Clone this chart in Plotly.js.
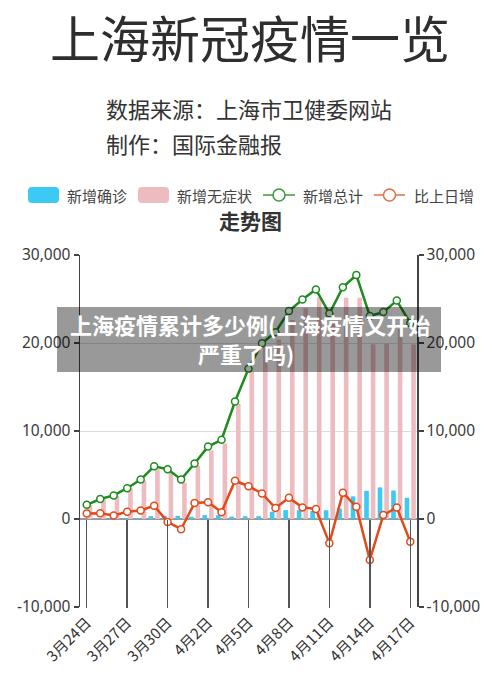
<!DOCTYPE html>
<html>
<head>
<meta charset="utf-8">
<script src="https://cdn.plot.ly/plotly-3.0.1.min.js"></script>
<style>html,body{margin:0;padding:0;background:#fff;}#chart{width:500px;height:680px;}</style>
</head>
<body>
<div id="chart"></div>
<script>
// ---- data ----
const dates = ['3月24日','3月25日','3月26日','3月27日','3月28日','3月29日','3月30日','3月31日',
  '4月1日','4月2日','4月3日','4月4日','4月5日','4月6日','4月7日','4月8日','4月9日','4月10日',
  '4月11日','4月12日','4月13日','4月14日','4月15日','4月16日','4月17日'];
const confirmed = [29,38,45,50,96,326,355,358,260,438,425,268,311,322,824,1015,1006,914,994,1189,2573,3200,3590,3238,2417];
const asymptomatic = [1580,2231,2631,3450,4381,5656,5298,4144,6051,7788,8581,13086,16766,19660,20398,22609,23937,25173,22348,25141,25146,19872,19923,21582,19831];
const total = [1609,2269,2676,3500,4477,5982,5653,4502,6311,8226,9006,13354,17077,19982,21222,23624,24943,26087,23342,26330,27719,23072,23513,24820,22248];
const change = [626,660,407,824,977,1505,-329,-1151,1809,1915,780,4348,3723,2905,1240,2402,1319,1144,-2745,2988,1389,-4647,441,1307,-2572];
const xTickVals = ['3月24日','3月27日','3月30日','4月2日','4月5日','4月8日','4月11日','4月14日','4月17日'];
const yTickVals = [-10000,0,10000,20000,30000];
const yTickText = ['-10,000','0','10,000','20,000','30,000'];
const seriesNames = ['新增确诊','新增无症状','新增总计','比上日增'];

// ---- style ----
const FONT = '"Noto Sans CJK SC", "Noto Sans", sans-serif';
const NUMFONT = '"Noto Sans", "Noto Sans CJK SC", sans-serif';
const BLUE = '#3ccaf5', PINK = '#ecbcc0', GREEN = '#1f8c1f', ORANGE = '#e14b1c';
const L = 80, R = 417, T = 255, B = 607;
const X = px => (px - L) / (R - L);
const Y = py => (B - py) / (B - T);

const traces = [
  {type:'bar', name:seriesNames[0], x:dates, y:confirmed, marker:{color:BLUE}, showlegend:false},
  {type:'bar', name:seriesNames[1], x:dates, y:asymptomatic, marker:{color:PINK}, showlegend:false},
  {type:'scatter', mode:'lines+markers', name:seriesNames[2], x:dates, y:total, yaxis:'y2',
   line:{color:GREEN, width:2.5}, marker:{symbol:'circle', size:7, color:'#fff', line:{color:GREEN, width:1.5}}, showlegend:false},
  {type:'scatter', mode:'lines+markers', name:seriesNames[3], x:dates, y:change, yaxis:'y2',
   line:{color:ORANGE, width:2.5}, marker:{symbol:'circle', size:7, color:'#fff', line:{color:ORANGE, width:1.5}}, showlegend:false}
];

const yAxisBase = {
  range:[-10000,30000], tickmode:'array', tickvals:yTickVals, ticktext:yTickText,
  showline:true, linecolor:'#444', linewidth:1.5, ticks:'outside', ticklen:5, tickcolor:'#444', tickwidth:1.2,
  tickfont:{family:NUMFONT, size:15.5, color:'#3a3a3a'}, fixedrange:true
};

function roundRect(x0, y0, x1, y1, r) {
  const rx = r / (R - L), ry = r / (B - T);
  const a = X(x0), b = X(x1), c = Y(y1), d = Y(y0);
  return `M${a+rx},${d} L${b-rx},${d} Q${b},${d} ${b},${d-ry} L${b},${c+ry} Q${b},${c} ${b-rx},${c} ` +
         `L${a+rx},${c} Q${a},${c} ${a},${c+ry} L${a},${d-ry} Q${a},${d} ${a+rx},${d} Z`;
}
function circle(cx, cy, r, color) {
  return {type:'circle', xref:'paper', yref:'paper', x0:X(cx-r), x1:X(cx+r), y0:Y(cy+r), y1:Y(cy-r),
          fillcolor:'#fff', line:{color:color, width:1.5}};
}
const LEG_Y = 195;
const shapes = [
  {type:'path', xref:'paper', yref:'paper', path:roundRect(28,187,59,203,4), fillcolor:BLUE, line:{width:0}},
  {type:'path', xref:'paper', yref:'paper', path:roundRect(138,187,169,203,4), fillcolor:PINK, line:{width:0}},
  {type:'line', xref:'paper', yref:'paper', x0:X(263), x1:X(295), y0:Y(LEG_Y), y1:Y(LEG_Y), line:{color:'#3a9a3a', width:1.5}},
  circle(279, LEG_Y, 6, '#3a9a3a'),
  {type:'line', xref:'paper', yref:'paper', x0:X(374), x1:X(405), y0:Y(LEG_Y), y1:Y(LEG_Y), line:{color:'#e07040', width:1.5}},
  circle(389.5, LEG_Y, 6, '#e07040'),
  {type:'rect', xref:'paper', yref:'paper', layer:'above', x0:X(57), x1:X(441), y0:Y(372), y1:Y(307),
   fillcolor:'rgba(0,0,0,0.4)', line:{width:0}}
];

function txt(text, px, py, size, opts) {
  return Object.assign({xref:'paper', yref:'paper', x:X(px), y:Y(py), text:text, showarrow:false,
    xanchor:'center', yanchor:'middle', font:{family:FONT, size:size, color:'#333'}}, opts || {});
}
const annotations = [
  txt('上海新冠疫情一览', 250, 36, 50, {font:{family:FONT, size:50, color:'#2e2e2e'}}),
  txt('数据来源：上海市卫健委网站', 104, 108, 22, {xanchor:'left'}),
  txt('制作：国际金融报', 104, 143, 22, {xanchor:'left'}),
  txt(seriesNames[0], 65, LEG_Y, 15, {xanchor:'left', font:{family:FONT, size:15, color:'#444'}}),
  txt(seriesNames[1], 175, LEG_Y, 15, {xanchor:'left', font:{family:FONT, size:15, color:'#444'}}),
  txt(seriesNames[2], 301, LEG_Y, 15, {xanchor:'left', font:{family:FONT, size:15, color:'#444'}}),
  txt(seriesNames[3], 412, LEG_Y, 15, {xanchor:'left', font:{family:FONT, size:15, color:'#444'}}),
  txt('<b>走势图</b>', 250, 220, 21, {font:{family:FONT, size:21, color:'#333'}}),
  txt('<b>上海疫情累计多少例(上海疫情又开始</b>', 250, 324, 22, {font:{family:FONT, size:22, color:'#fff'}}),
  txt('<b>严重了吗)</b>', 246, 353, 22, {font:{family:FONT, size:22, color:'#fff'}})
];

const layout = {
  width:500, height:680,
  margin:{l:L, r:500-R, t:T, b:680-B, pad:0},
  paper_bgcolor:'#fff', plot_bgcolor:'#fff',
  font:{family:FONT, color:'#333'},
  showlegend:false, hovermode:false,
  barmode:'group', bargap:0.02, bargroupgap:0.3,
  xaxis:{type:'category', range:[-0.5,24.5], anchor:'free', position:0.25,
    tickmode:'array', tickvals:xTickVals, ticktext:xTickVals,
    ticks:'outside', ticklen:88, tickwidth:1.5, tickcolor:'#555',
    showline:false, showgrid:false, zeroline:false, tickangle:-45,
    tickfont:{family:FONT, size:15, color:'#333'}, fixedrange:true},
  yaxis:Object.assign({}, yAxisBase, {showgrid:true, gridcolor:'#dcdcdc', gridwidth:1,
    zeroline:true, zerolinecolor:'#999', zerolinewidth:1.5}),
  yaxis2:Object.assign({}, yAxisBase, {overlaying:'y', side:'right', showgrid:false, zeroline:false}),
  shapes:shapes, annotations:annotations
};

Plotly.newPlot('chart', traces, layout, {displayModeBar:false, staticPlot:true});
</script>
</body>
</html>
